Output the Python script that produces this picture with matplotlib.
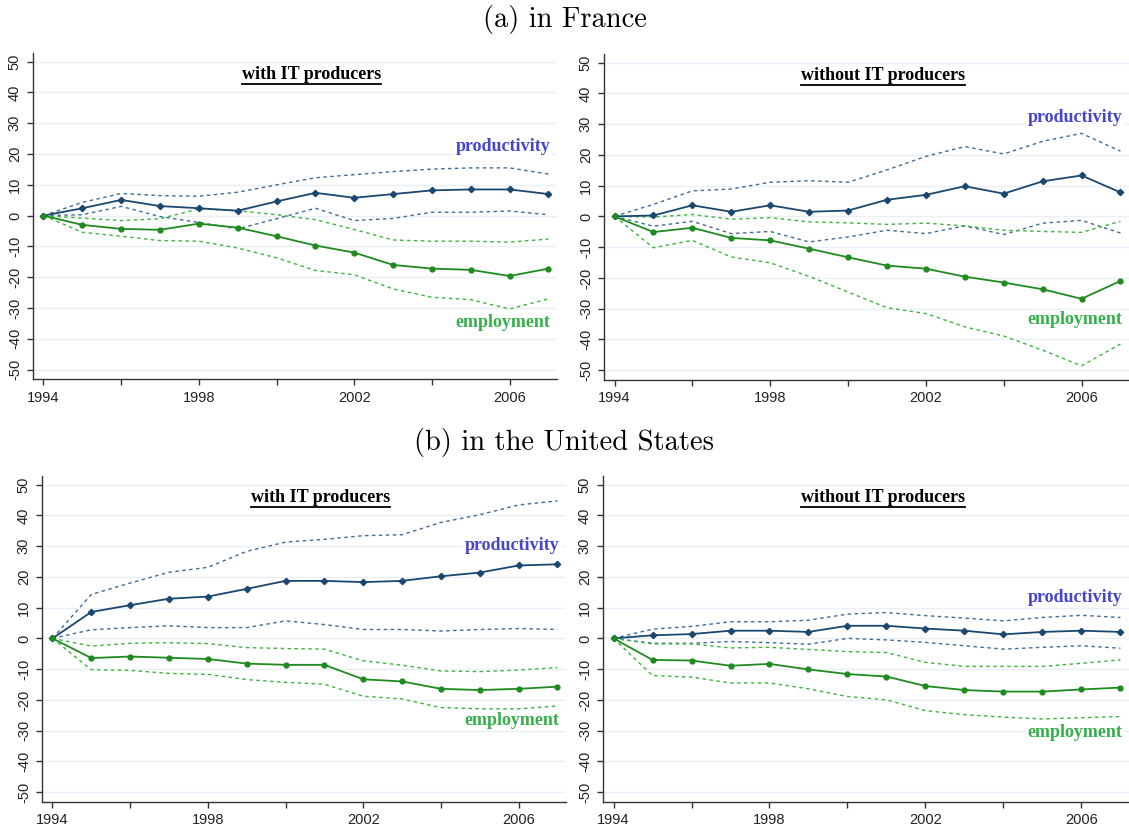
import numpy as np
import matplotlib.pyplot as plt
from matplotlib.lines import Line2D

years = np.arange(1994, 2008)

# France, with IT producers
fr_with_prod = [0, 2.4, 5.1, 3.1, 2.4, 1.6, 4.6, 7.4, 5.8, 7.0, 8.2, 8.5, 8.5, 7.0]
fr_with_prod_hi = [0, 4.3, 7.2, 6.5, 6.3, 7.6, 10.0, 12.3, 13.3, 14.3, 15.1, 15.5, 15.5, 13.5]
fr_with_prod_lo = [0, 0.3, 3.0, -0.3, -2.2, -4.3, -1.0, 2.4, -1.6, -0.9, 1.1, 1.1, 1.5, 0.3]
fr_with_emp = [0, -3.0, -4.3, -4.6, -2.6, -3.9, -6.7, -9.7, -12.0, -16.0, -17.2, -17.6, -19.6, -17.2]
fr_with_emp_hi = [0, -0.8, -1.6, -1.0, 2.2, 1.6, 0.3, -1.3, -4.5, -7.9, -8.3, -8.3, -8.6, -7.6]
fr_with_emp_lo = [0, -5.4, -6.7, -8.1, -8.3, -10.5, -13.7, -17.8, -19.2, -23.8, -26.5, -27.3, -30.3, -27.0]

# France, without IT producers
fr_wo_prod = [0, 0.3, 3.6, 1.5, 3.6, 1.5, 1.9, 5.4, 7.0, 9.8, 7.4, 11.4, 13.3, 7.8]
fr_wo_prod_hi = [0, 3.9, 8.3, 8.9, 11.1, 11.6, 11.1, 15.1, 19.5, 22.7, 20.3, 24.4, 27.0, 21.2]
fr_wo_prod_lo = [0, -3.2, -1.6, -5.6, -4.9, -8.3, -6.7, -4.5, -5.6, -3.1, -5.9, -2.2, -1.3, -5.4]
fr_wo_emp = [0, -5.1, -3.7, -7.0, -7.8, -10.5, -13.3, -16.0, -17.0, -19.6, -21.5, -23.7, -26.8, -21.0]
fr_wo_emp_hi = [0, -0.2, 0.6, -0.9, -0.4, -1.8, -2.1, -2.6, -2.2, -3.1, -4.5, -4.9, -5.2, -1.6]
fr_wo_emp_lo = [0, -10.2, -7.8, -13.2, -15.1, -19.5, -24.6, -29.7, -31.6, -35.9, -38.9, -43.5, -48.6, -41.5]

# United States, with IT producers
us_with_prod = [0, 8.6, 10.8, 12.9, 13.6, 16.1, 18.7, 18.7, 18.3, 18.7, 20.2, 21.4, 23.7, 24.1]
us_with_prod_hi = [0, 14.3, 18.0, 21.5, 23.1, 28.3, 31.3, 32.2, 33.4, 33.7, 37.7, 40.2, 43.4, 44.7]
us_with_prod_lo = [0, 2.8, 3.5, 4.1, 3.5, 3.5, 5.7, 4.5, 2.9, 2.9, 2.4, 2.9, 3.2, 2.9]
us_with_emp = [0, -6.4, -5.9, -6.3, -6.7, -8.2, -8.6, -8.6, -13.3, -14.0, -16.4, -16.8, -16.4, -15.7]
us_with_emp_hi = [0, -2.5, -1.6, -1.4, -1.7, -3.0, -3.3, -3.5, -7.3, -8.7, -10.6, -10.8, -10.3, -9.5]
us_with_emp_lo = [0, -10.2, -10.4, -11.4, -11.7, -13.4, -14.3, -14.9, -18.8, -19.7, -22.5, -22.9, -22.9, -22.0]

# United States, without IT producers
us_wo_prod = [0, 1.0, 1.4, 2.5, 2.5, 2.1, 4.1, 4.1, 3.2, 2.5, 1.3, 2.1, 2.5, 2.1]
us_wo_prod_hi = [0, 3.0, 3.9, 5.4, 5.4, 5.9, 7.9, 8.4, 7.4, 6.6, 5.7, 6.8, 7.5, 6.8]
us_wo_prod_lo = [0, -1.6, -1.6, -1.0, -1.4, -1.9, 0.0, -0.5, -1.3, -2.4, -3.5, -2.9, -2.4, -3.2]
us_wo_emp = [0, -7.0, -7.2, -8.9, -8.3, -10.1, -11.6, -12.4, -15.5, -16.8, -17.3, -17.3, -16.6, -16.0]
us_wo_emp_hi = [0, -1.8, -1.8, -3.1, -2.9, -3.6, -4.3, -4.6, -7.8, -9.1, -9.1, -9.1, -8.1, -7.0]
us_wo_emp_lo = [0, -12.1, -12.6, -14.5, -14.5, -16.4, -18.9, -20.0, -23.5, -24.8, -25.6, -26.2, -25.8, -25.4]

yticks = np.arange(-50, 51, 10)
xticks = np.arange(1994, 2008, 2)
xticklabels = ['1994', '', '1998', '', '2002', '', '2006']

NAVY = '#1a476f'
NAVY_CI = '#3f6b96'
GREEN = '#1f8a1f'
GREEN_CI = '#3cb43c'
PROD_LABEL = '#4646cc'
EMP_LABEL = '#34b04a'

W, H = 1129, 830
fig = plt.figure(figsize=(W / 100, H / 100), dpi=100)

panels = [
    # rect in pixels: left, top, width, height
    ((33, 53, 524, 326.5), 'with IT producers',
     fr_with_prod, fr_with_prod_hi, fr_with_prod_lo, fr_with_emp, fr_with_emp_hi, fr_with_emp_lo, 22.4, -34.7),
    ((604, 54, 525, 326), 'without IT producers',
     fr_wo_prod, fr_wo_prod_hi, fr_wo_prod_lo, fr_wo_emp, fr_wo_emp_hi, fr_wo_emp_lo, 32.0, -33.6),
    ((42, 476, 524, 326), 'with IT producers',
     us_with_prod, us_with_prod_hi, us_with_prod_lo, us_with_emp, us_with_emp_hi, us_with_emp_lo, 30.2, -26.6),
    ((603, 476, 526, 326), 'without IT producers',
     us_wo_prod, us_wo_prod_hi, us_wo_prod_lo, us_wo_emp, us_wo_emp_hi, us_wo_emp_lo, 13.3, -30.5),
]

titles = []
for rect, name, p, p_hi, p_lo, e, e_hi, e_lo, p_y, e_y in panels:
    l, t, w, h = rect
    ax = fig.add_axes([l / W, 1 - (t + h) / H, w / W, h / H])
    ax.set_xlim(1993.73, 2007.22)
    ax.set_ylim(-53.2, 52.8)

    ax.plot(years, p_hi, color=NAVY_CI, lw=1.0, ls=(0, (2.5, 2.5)))
    ax.plot(years, p_lo, color=NAVY_CI, lw=1.0, ls=(0, (2.5, 2.5)))
    ax.plot(years, e_hi, color=GREEN_CI, lw=1.0, ls=(0, (2.5, 2.5)))
    ax.plot(years, e_lo, color=GREEN_CI, lw=1.0, ls=(0, (2.5, 2.5)))
    ax.plot(years, p, color=NAVY, lw=1.3, marker='D', ms=3.2)
    ax.plot(years, e, color=GREEN, lw=1.3, marker='o', ms=3.5)

    ax.set_yticks(yticks)
    ax.set_yticklabels([str(v) for v in yticks], rotation=90, va='center',
                       family='Liberation Sans', fontsize=10.5, color='#222222')
    ax.set_xticks(xticks)
    ax.set_xticklabels(xticklabels, family='Liberation Sans', fontsize=10.5, color='#222222')
    ax.tick_params(axis='both', length=4, width=1, color='#333333', pad=4)
    ax.yaxis.grid(True, color='#eaeff5', lw=1.0)
    ax.set_axisbelow(True)
    for s in ['top', 'right']:
        ax.spines[s].set_visible(False)
    for s in ['left', 'bottom']:
        ax.spines[s].set_color('#333333')
        ax.spines[s].set_linewidth(1.0)

    txt = ax.text(2000.9, 45.8, name, ha='center', va='center', family='Liberation Serif',
                  fontweight='bold', fontsize=13, color='black')
    titles.append((ax, txt))
    ax.text(2007.05, p_y, 'productivity', ha='right', va='center', family='Liberation Serif',
            fontweight='bold', fontsize=13, color=PROD_LABEL,
            bbox=dict(facecolor='white', edgecolor='none', pad=1))
    ax.text(2007.05, e_y, 'employment', ha='right', va='center', family='Liberation Serif',
            fontweight='bold', fontsize=13, color=EMP_LABEL,
            bbox=dict(facecolor='white', edgecolor='none', pad=1))

fig.text(0.5, 1 - 19 / H, '(a) in France', ha='center', va='center',
         family='cmr10', fontsize=20.5)
fig.text(0.5, 1 - 442 / H, '(b) in the United States', ha='center', va='center',
         family='cmr10', fontsize=20.5)

# underline the panel headings
fig.canvas.draw()
renderer = fig.canvas.get_renderer()
for ax, txt in titles:
    bb = txt.get_window_extent(renderer)
    y = (bb.y0 - 1) / H
    fig.add_artist(Line2D([bb.x0 / W, bb.x1 / W], [y, y], color='black', lw=1.3))

fig.savefig('out.png', dpi=100)
